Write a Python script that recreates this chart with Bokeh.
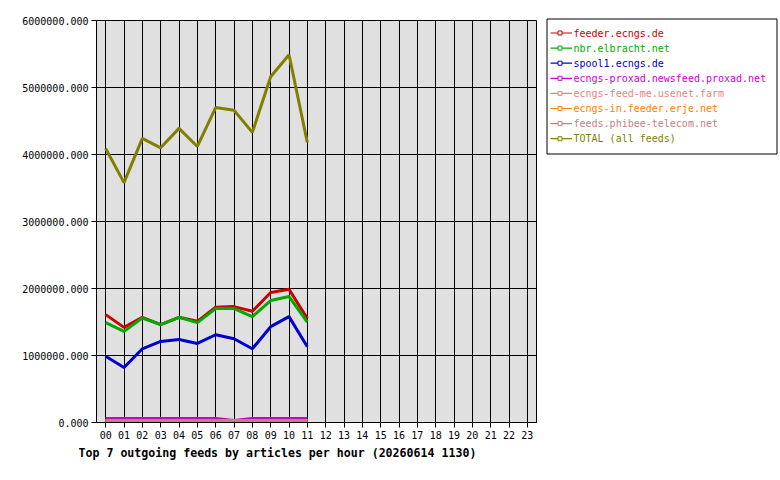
from bokeh.plotting import figure
from bokeh.layouts import row
from bokeh.models import Range1d, FixedTicker, PrintfTickFormatter, Title, ColumnDataSource
from bokeh.core.properties import value
from bokeh.embed import file_html
from bokeh.resources import INLINE

hour_labels = ["%02d" % h for h in range(24)]
hours = list(range(12))

feeder_ecngs = [1610000, 1420000, 1570000, 1460000, 1570000, 1510000, 1720000, 1730000, 1660000, 1940000, 1990000, 1550000]
nbr_elbracht = [1490000, 1360000, 1560000, 1460000, 1570000, 1490000, 1700000, 1700000, 1580000, 1820000, 1880000, 1500000]
spool1_ecngs = [990000, 820000, 1100000, 1210000, 1240000, 1180000, 1310000, 1250000, 1100000, 1430000, 1580000, 1130000]
proxad = [60000, 60000, 60000, 60000, 60000, 60000, 60000, 30000, 60000, 60000, 60000, 60000]
feed_me = [30000, 30000, 30000, 30000, 30000, 30000, 30000, 30000, 30000, 30000, 30000, 30000]
erje = [25000, 25000, 25000, 25000, 25000, 25000, 25000, 25000, 25000, 25000, 25000, 25000]
phibee = [30000, 30000, 30000, 30000, 30000, 30000, 30000, 30000, 30000, 30000, 30000, 30000]
total = [4090000, 3580000, 4240000, 4100000, 4390000, 4120000, 4700000, 4660000, 4330000, 5160000, 5490000, 4180000]

series_names = ["feeder.ecngs.de", "nbr.elbracht.net", "spool1.ecngs.de",
                "ecngs-proxad.newsfeed.proxad.net", "ecngs-feed-me.usenet.farm",
                "ecngs-in.feeder.erje.net", "feeds.phibee-telecom.net", "TOTAL (all feeds)"]
series_values = [feeder_ecngs, nbr_elbracht, spool1_ecngs, proxad, feed_me, erje, phibee, total]
series_colors = ["#cc0000", "#00aa00", "#0000cc", "#cc00cc", "#f08080", "#ff8000", "#c08080", "#808000"]
y_ticks = [0, 1000000, 2000000, 3000000, 4000000, 5000000, 6000000]
title_text = "Top 7 outgoing feeds by articles per hour (20260614 1130)"

MONO = "DejaVu Sans Mono"

p = figure(width=540, height=480, output_backend="svg", toolbar_location=None,
           x_range=Range1d(-0.5, 23.5), y_range=Range1d(0, 6000000),
           min_border_left=96, min_border_right=4, min_border_top=20, min_border_bottom=58)
p.border_fill_color = "white"
p.background_fill_color = "#e0e0e0"
p.outline_line_color = "black"
p.outline_line_width = 1

p.xaxis.ticker = FixedTicker(ticks=list(range(24)))
p.xaxis.major_label_overrides = {i: lab for i, lab in enumerate(hour_labels)}
p.yaxis.ticker = FixedTicker(ticks=y_ticks)
p.yaxis.formatter = PrintfTickFormatter(format="%.3f")
for ax in (p.xaxis, p.yaxis):
    ax.axis_line_color = "black"
    ax.major_tick_line_color = "black"
    ax.minor_tick_line_color = None
    ax.major_tick_in = 0
    ax.major_tick_out = 5
    ax.major_label_text_font = MONO
    ax.major_label_text_font_size = "10px"
    ax.major_label_text_color = "black"
    ax.major_label_standoff = 3
p.xgrid.grid_line_color = "black"
p.ygrid.grid_line_color = "black"
p.xgrid.grid_line_alpha = 1
p.ygrid.grid_line_alpha = 1

for vals, col in zip(series_values, series_colors):
    p.line(hours, vals, line_color=col, line_width=3)

t = Title(text=title_text, align="left", text_font=MONO, text_font_size="11.6px",
          text_font_style="bold", text_color="black", offset=-18, standoff=4)
p.add_layout(t, "below")

# manual legend (colored labels)
lg = figure(width=240, height=480, output_backend="svg", toolbar_location=None,
            x_range=Range1d(0, 240), y_range=Range1d(480, 0),
            x_axis_type=None, y_axis_type=None, min_border=0)
lg.frame_align = False
lg.outline_line_color = None
lg.xgrid.visible = False
lg.ygrid.visible = False
lg.background_fill_color = "white"
lg.border_fill_color = "white"
n = len(series_names)
ys = [32.5 + 15.1 * i for i in range(n)]
src = ColumnDataSource(dict(y=ys, x0=[10] * n, x1=[31.5] * n, xm=[19.5] * n, xt=[33] * n,
                            name=series_names, color=series_colors))
lg.quad(left=6.5, right=236.5, top=18.5, bottom=153.5, fill_color="white", line_color="black", line_width=1)
lg.segment(x0="x0", y0="y", x1="x1", y1="y", line_color="color", line_width=1.2, source=src)
lg.scatter(x="xm", y="y", marker="square", size=4, line_color="color", fill_color="white", line_width=1, source=src)
lg.text(x="xt", y="y", text="name", text_color="color", text_font=value(MONO), text_font_size="10px",
        text_baseline="middle", text_align="left", source=src)

layout = row(p, lg, spacing=0)
open("out.html", "w").write(file_html(layout, INLINE))
